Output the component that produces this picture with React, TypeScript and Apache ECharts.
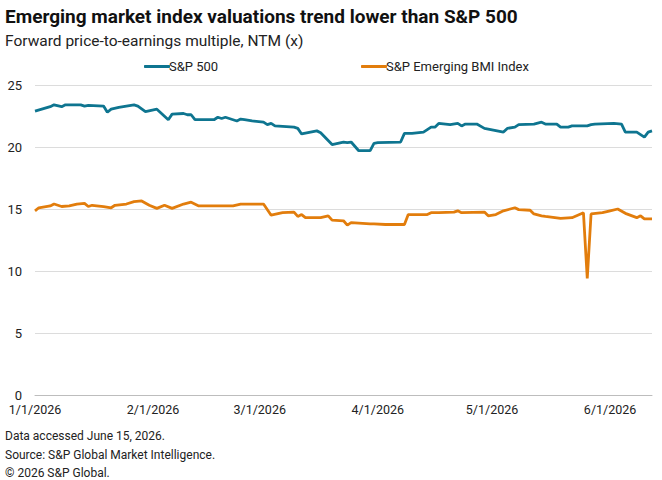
import React, { useEffect, useRef } from "react";
import * as echarts from "echarts";

const titleText = "Emerging market index valuations trend lower than S&P 500";
const subtitleText = "Forward price-to-earnings multiple, NTM (x)";
const footerLines = [
  "Data accessed June 15, 2026.",
  "Source: S&P Global Market Intelligence.",
  "\u00a9 2026 S&P Global.",
];

const seriesNames = ["S&P 500", "S&P Emerging BMI Index"];

const spDates = [
  "2026-01-01", "2026-01-05", "2026-01-06", "2026-01-08", "2026-01-09", "2026-01-13", "2026-01-14",
  "2026-01-15", "2026-01-19", "2026-01-20", "2026-01-21", "2026-01-23", "2026-01-27", "2026-01-28",
  "2026-01-30", "2026-02-02", "2026-02-05", "2026-02-06", "2026-02-09", "2026-02-10", "2026-02-11",
  "2026-02-12", "2026-02-17", "2026-02-18", "2026-02-19", "2026-02-20", "2026-02-23", "2026-02-24",
  "2026-02-25", "2026-02-27", "2026-03-02", "2026-03-03", "2026-03-04", "2026-03-05", "2026-03-10",
  "2026-03-11", "2026-03-12", "2026-03-16", "2026-03-17", "2026-03-20", "2026-03-23", "2026-03-24",
  "2026-03-25", "2026-03-27", "2026-03-30", "2026-03-31", "2026-04-01", "2026-04-07", "2026-04-08",
  "2026-04-10", "2026-04-13", "2026-04-15", "2026-04-16", "2026-04-17", "2026-04-20", "2026-04-22",
  "2026-04-23", "2026-04-24", "2026-04-27", "2026-04-29", "2026-04-30", "2026-05-04", "2026-05-05",
  "2026-05-07", "2026-05-08", "2026-05-12", "2026-05-14", "2026-05-15", "2026-05-18", "2026-05-19",
  "2026-05-21", "2026-05-22", "2026-05-26", "2026-05-27", "2026-05-28", "2026-06-02", "2026-06-04",
  "2026-06-05", "2026-06-08", "2026-06-10", "2026-06-11", "2026-06-12",
];
const spValues = [
  22.9, 23.25, 23.4, 23.25, 23.4, 23.4, 23.3,
  23.35, 23.3, 22.8, 23.05, 23.2, 23.4, 23.3,
  22.85, 23.05, 22.2, 22.65, 22.7, 22.6, 22.6,
  22.2, 22.2, 22.4, 22.3, 22.4, 22.1, 22.25,
  22.2, 22.1, 22.0, 21.8, 21.9, 21.7, 21.6,
  21.5, 21.05, 21.3, 21.15, 20.2, 20.4, 20.35,
  20.4, 19.7, 19.7, 20.3, 20.35, 20.4, 21.1,
  21.1, 21.2, 21.6, 21.6, 21.9, 21.8, 21.9,
  21.7, 21.85, 21.85, 21.5, 21.45, 21.2, 21.5,
  21.6, 21.8, 21.85, 22.0, 21.85, 21.85, 21.6,
  21.6, 21.7, 21.7, 21.8, 21.85, 21.9, 21.85,
  21.2, 21.2, 20.8, 21.2, 21.3,
];

const emDates = [
  "2026-01-01", "2026-01-02", "2026-01-05", "2026-01-06", "2026-01-08", "2026-01-10", "2026-01-12",
  "2026-01-14", "2026-01-15", "2026-01-16", "2026-01-19", "2026-01-21", "2026-01-22", "2026-01-25",
  "2026-01-27", "2026-01-29", "2026-01-31", "2026-02-02", "2026-02-04", "2026-02-06", "2026-02-09",
  "2026-02-11", "2026-02-13", "2026-02-22", "2026-02-24", "2026-03-02", "2026-03-04", "2026-03-07",
  "2026-03-10", "2026-03-11", "2026-03-12", "2026-03-13", "2026-03-17", "2026-03-19", "2026-03-20",
  "2026-03-23", "2026-03-24", "2026-03-25", "2026-03-30", "2026-03-31", "2026-04-03", "2026-04-08",
  "2026-04-09", "2026-04-14", "2026-04-15", "2026-04-17", "2026-04-21", "2026-04-22", "2026-04-23",
  "2026-04-29", "2026-04-30", "2026-05-02", "2026-05-04", "2026-05-07", "2026-05-08", "2026-05-11",
  "2026-05-12", "2026-05-14", "2026-05-15", "2026-05-19", "2026-05-22", "2026-05-25", "2026-05-26",
  "2026-05-27", "2026-05-30", "2026-06-01", "2026-06-03", "2026-06-05", "2026-06-08", "2026-06-09",
  "2026-06-10", "2026-06-12",
];
const emValues = [
  14.85, 15.1, 15.25, 15.4, 15.2, 15.25, 15.4,
  15.45, 15.2, 15.3, 15.2, 15.1, 15.3, 15.4,
  15.6, 15.65, 15.3, 15.05, 15.3, 15.05, 15.4,
  15.55, 15.25, 15.25, 15.4, 15.4, 14.5, 14.7,
  14.75, 14.4, 14.55, 14.3, 14.3, 14.45, 14.1,
  14.05, 13.7, 13.9, 13.8, 13.8, 13.75, 13.75,
  14.55, 14.55, 14.7, 14.7, 14.75, 14.85, 14.7,
  14.75, 14.45, 14.55, 14.85, 15.1, 14.95, 14.9,
  14.6, 14.45, 14.4, 14.25, 14.3, 14.7, 9.4,
  14.6, 14.7, 14.85, 15.0, 14.65, 14.3, 14.45,
  14.2, 14.2,
];

const xMin = "2026-01-01";
const xMax = "2026-06-12";
const yTicks = [0, 5, 10, 15, 20, 25];

const FONT = "Roboto";
const BLUE = "#0e7590";
const ORANGE = "#e27d0c";

export default function App() {
  const ref = useRef<HTMLDivElement>(null);
  useEffect(() => {
    document.body.style.margin = "0";
    if (!ref.current) return;
    const chart = echarts.init(ref.current, undefined, { renderer: "svg" });
    const fmt = (v: number) => {
      const d = new Date(v);
      return `${d.getMonth() + 1}/${d.getDate()}/${d.getFullYear()}`;
    };
    chart.setOption({
      animation: false,
      textStyle: { fontFamily: FONT },
      title: [
        {
          text: titleText,
          left: 0,
          top: 2,
          textStyle: { fontFamily: FONT, fontSize: 19, fontWeight: "bold", color: "#111" },
        },
        {
          text: subtitleText,
          left: 0,
          top: 28,
          textStyle: { fontFamily: FONT, fontSize: 15.5, fontWeight: "normal", color: "#222" },
        },
        ...footerLines.map((t, i) => ({
          text: t,
          left: 0,
          top: 425 + i * 18.5,
          textStyle: { fontFamily: FONT, fontSize: 12, fontWeight: "normal", color: "#222" },
        })),
      ],
      legend: [
        {
          data: [seriesNames[0]],
          left: 139,
          top: 55,
          icon: "roundRect",
          itemWidth: 26,
          itemHeight: 3,
          textStyle: { fontFamily: FONT, fontSize: 13, color: "#222", padding: [0, 0, 0, -6] },
        },
        {
          data: [seriesNames[1]],
          left: 356,
          top: 55,
          icon: "roundRect",
          itemWidth: 26,
          itemHeight: 3,
          textStyle: { fontFamily: FONT, fontSize: 13, color: "#222", padding: [0, 0, 0, -6] },
        },
      ],
      grid: { left: 35, right: 10, top: 85, bottom: 85 },
      xAxis: {
        type: "time",
        min: xMin,
        max: xMax,
        splitNumber: 6,
        axisLine: { lineStyle: { color: "#bdbdbd", width: 1 } },
        axisTick: { show: false },
        splitLine: { show: false },
        axisLabel: {
          formatter: fmt,
          fontFamily: FONT,
          fontSize: 12.5,
          color: "#222",
          margin: 8,
          showMinLabel: true,
          showMaxLabel: false,
          hideOverlap: false,
        },
      },
      yAxis: {
        type: "value",
        min: yTicks[0],
        max: yTicks[yTicks.length - 1],
        interval: 5,
        axisLine: { show: false },
        axisTick: { show: false },
        splitLine: { lineStyle: { color: "#dcdcdc", width: 1 } },
        axisLabel: { fontFamily: FONT, fontSize: 13, color: "#222", margin: 13 },
      },
      series: [
        {
          name: seriesNames[0],
          type: "line",
          data: spDates.map((d, i) => [d, spValues[i]]),
          showSymbol: false,
          lineStyle: { color: BLUE, width: 2.8 },
          itemStyle: { color: BLUE },
          z: 3,
        },
        {
          name: seriesNames[1],
          type: "line",
          data: emDates.map((d, i) => [d, emValues[i]]),
          showSymbol: false,
          lineStyle: { color: ORANGE, width: 2.8 },
          itemStyle: { color: ORANGE },
          z: 2,
        },
      ],
    });
    return () => chart.dispose();
  }, []);
  return <div ref={ref} style={{ width: 662, height: 480 }} />;
}
